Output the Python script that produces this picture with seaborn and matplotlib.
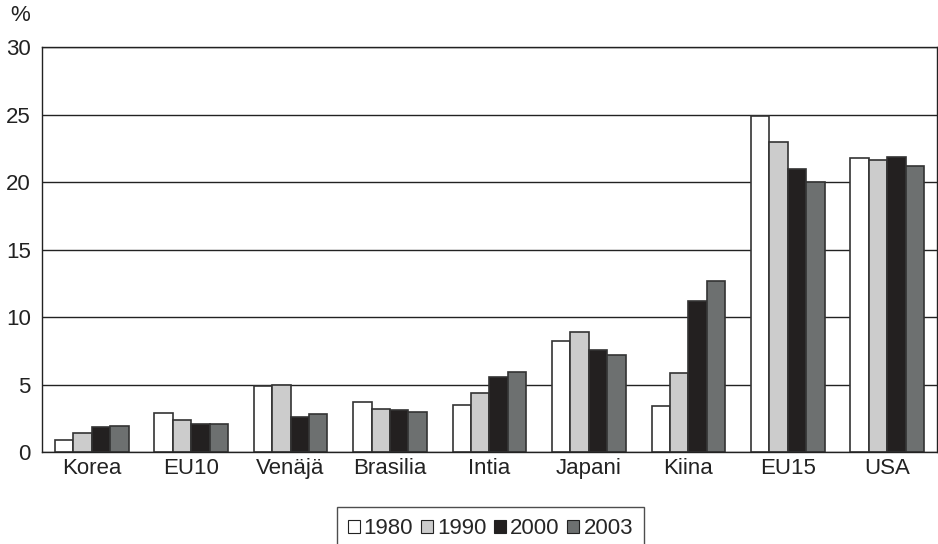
import matplotlib
matplotlib.use("Agg")
import matplotlib.pyplot as plt
import pandas as pd
import seaborn as sns

categories = ["Korea", "EU10", "Venäjä", "Brasilia", "Intia", "Japani", "Kiina", "EU15", "USA"]
years = ["1980", "1990", "2000", "2003"]
v1980 = [0.9, 2.9, 4.9, 3.7, 3.5, 8.2, 3.4, 24.9, 21.8]
v1990 = [1.4, 2.4, 5.0, 3.2, 4.4, 8.9, 5.85, 23.0, 21.65]
v2000 = [1.85, 2.05, 2.6, 3.1, 5.6, 7.6, 11.2, 21.0, 21.85]
v2003 = [1.9, 2.05, 2.8, 2.95, 5.9, 7.2, 12.7, 20.05, 21.2]

sns.set_theme(style="white")
plt.rcParams['font.family'] = ['Liberation Sans', 'DejaVu Sans']

rows = []
for y, vals in zip(years, [v1980, v1990, v2000, v2003]):
    for c, v in zip(categories, vals):
        rows.append({"Maa": c, "Vuosi": y, "Osuus": v})
df = pd.DataFrame(rows)

colors = ["#ffffff", "#cccccc", "#231f20", "#6d7070"]

fig = plt.figure(figsize=(9.38, 5.44), dpi=100)
ax = fig.add_axes([0.0448, 0.169, 0.954, 0.744])
sns.barplot(data=df, x="Maa", y="Osuus", hue="Vuosi", palette=colors, width=0.74,
            edgecolor="#333333", linewidth=1.2, ax=ax, legend=True)

ax.set_ylim(0, 30)
ax.set_yticks(range(0, 31, 5))
ax.set_xlim(-0.5, len(categories) - 0.5)
ax.yaxis.grid(True, color="#222222", linewidth=1.0)
ax.set_axisbelow(True)
for s in ax.spines.values():
    s.set_color("#222222")
    s.set_linewidth(1.0)
ax.set_xlabel("")
ax.set_ylabel("")
ax.tick_params(axis="both", labelsize=16, colors="#222222", length=0)
ax.tick_params(axis="y", pad=8)
ax.tick_params(axis="x", pad=4)
ax.text(-0.013, 1.064, "%", transform=ax.transAxes, fontsize=16, ha="right", va="baseline", color="#222222")

leg = ax.legend(loc="upper center", bbox_to_anchor=(0.501, -0.136), ncol=4, frameon=True,
                fontsize=16, handlelength=0.54, handleheight=0.54, handletextpad=0.18,
                columnspacing=0.35, borderpad=0.5, borderaxespad=0, fancybox=False)
leg.get_frame().set_edgecolor("#222222")
leg.get_frame().set_linewidth(1.0)
for h in leg.legend_handles:
    h.set_edgecolor("#222222")
    h.set_linewidth(0.8)

fig.savefig("out.png", dpi=100)
